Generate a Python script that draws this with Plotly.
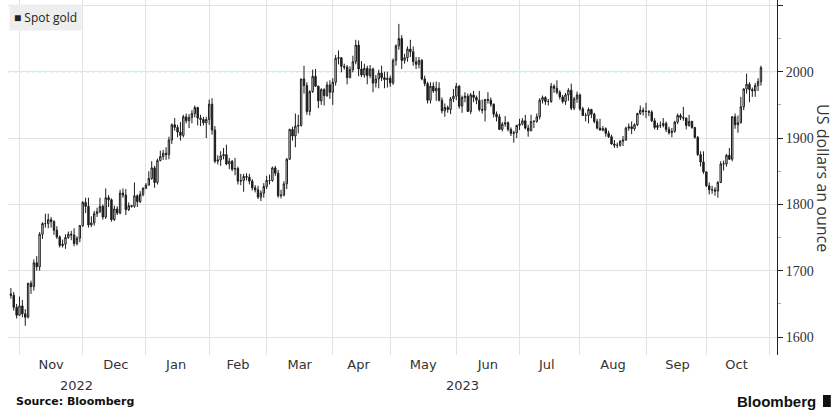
import pandas as pd
import plotly.graph_objects as go

# Trading days (Mon-Fri) from 27 Oct 2022 to 27 Oct 2023
dates = pd.bdate_range("2022-10-27", "2023-10-27")

# Spot gold daily OHLC, US dollars an ounce
opens = [
    1665, 1663, 1645,
    1633, 1647, 1635, 1630, 1681, 1676, 1712, 1706, 1755, 1771, 1771, 1777, 1774, 1761, 1751, 1738, 1740, 1750, 1755, 1754, 1741, 1749,
    1768, 1803, 1797, 1769, 1772, 1786, 1789, 1797, 1781, 1810, 1807, 1777, 1793, 1787, 1817, 1814, 1792, 1798, 1797, 1813, 1804, 1815,
    1824, 1829, 1839, 1855, 1833, 1866, 1872, 1877, 1875, 1897, 1920, 1916, 1909, 1904, 1932, 1926, 1931, 1937, 1946, 1930, 1928, 1923,
    1928, 1951, 1912, 1865, 1867, 1873, 1875, 1861, 1865, 1853, 1854, 1835, 1836, 1842, 1841, 1835, 1825, 1822, 1811, 1817,
    1827, 1836, 1836, 1855, 1847, 1813, 1814, 1831, 1868, 1913, 1903, 1918, 1919, 1989, 1979, 1940, 1970, 1993, 1978, 1956, 1973, 1964, 1980,
    1969, 1984, 2020, 2021, 2008, 2007, 1991, 2003, 2015, 2040, 2004, 1995, 2005, 1994, 2004, 1983, 1989, 1998, 1991, 1988,
    1990, 1983, 2017, 2039, 2050, 2017, 2021, 2034, 2030, 2015, 2011, 2017, 1989, 1982, 1957, 1978, 1971, 1975, 1957, 1941, 1946, 1943, 1959,
    1963, 1978, 1948, 1961, 1963, 1940, 1965, 1961, 1957, 1943, 1942, 1958, 1957, 1951, 1936, 1932, 1913, 1921, 1923, 1913, 1907, 1908,
    1919, 1921, 1926, 1915, 1911, 1925, 1925, 1932, 1957, 1961, 1955, 1955, 1978, 1975, 1969, 1962, 1955, 1965, 1972, 1945, 1959,
    1965, 1944, 1934, 1934, 1943, 1936, 1925, 1915, 1912, 1914, 1907, 1902, 1891, 1889, 1889, 1895, 1897, 1915, 1917, 1914, 1920, 1937, 1942,
    1940, 1940, 1939, 1926, 1916, 1919, 1919, 1922, 1913, 1908, 1910, 1924, 1934, 1931, 1930, 1919, 1925, 1916, 1901, 1875, 1864,
    1849, 1828, 1822, 1822, 1820, 1833, 1861, 1861, 1874, 1868, 1932, 1920, 1923, 1947, 1974, 1981, 1973, 1971, 1979, 1985,
]
highs = [
    1674, 1668, 1650,
    1661, 1656, 1642, 1682, 1685, 1717, 1722, 1758, 1773, 1786, 1786, 1781, 1776, 1767, 1753, 1747, 1755, 1759, 1760, 1764, 1752, 1769,
    1805, 1810, 1810, 1782, 1790, 1795, 1810, 1800, 1824, 1814, 1809, 1798, 1797, 1822, 1824, 1823, 1803, 1799, 1833, 1815, 1820, 1826,
    1832, 1850, 1865, 1858, 1869, 1881, 1882, 1886, 1902, 1922, 1930, 1920, 1924, 1935, 1937, 1936, 1942, 1949, 1947, 1935, 1932, 1932,
    1958, 1960, 1918, 1874, 1880, 1885, 1890, 1870, 1867, 1870, 1857, 1846, 1846, 1847, 1846, 1838, 1829, 1828, 1821, 1832,
    1843, 1845, 1857, 1858, 1852, 1822, 1835, 1870, 1914, 1917, 1937, 1935, 1989, 2009, 1984, 1972, 2003, 2004, 1979, 1975, 1975, 1985, 1987,
    1990, 2025, 2032, 2022, 2012, 2010, 2008, 2024, 2048, 2047, 2016, 2012, 2009, 2010, 2006, 1995, 2003, 2009, 2000, 2000,
    1994, 2020, 2041, 2072, 2055, 2027, 2038, 2048, 2038, 2022, 2022, 2019, 1994, 1985, 1984, 1984, 1985, 1984, 1961, 1952, 1949, 1962, 1974,
    1983, 1980, 1964, 1969, 1967, 1968, 1971, 1964, 1971, 1958, 1959, 1969, 1961, 1952, 1940, 1936, 1924, 1933, 1925, 1916, 1911, 1920,
    1929, 1930, 1935, 1920, 1935, 1927, 1937, 1960, 1964, 1963, 1959, 1983, 1981, 1987, 1972, 1965, 1968, 1975, 1982, 1962, 1970,
    1967, 1947, 1938, 1946, 1944, 1938, 1929, 1929, 1918, 1916, 1911, 1905, 1897, 1893, 1897, 1903, 1917, 1922, 1925, 1922, 1938, 1949, 1946,
    1953, 1942, 1942, 1930, 1923, 1925, 1930, 1925, 1917, 1915, 1926, 1937, 1937, 1947, 1931, 1935, 1926, 1916, 1903, 1880, 1880,
    1849, 1833, 1828, 1826, 1835, 1865, 1866, 1876, 1885, 1933, 1937, 1934, 1962, 1975, 1997, 1984, 1976, 1983, 1990, 2009,
]
lows = [
    1658, 1640, 1628,
    1632, 1630, 1617, 1628, 1665, 1670, 1700, 1700, 1748, 1765, 1764, 1765, 1754, 1748, 1735, 1735, 1733, 1748, 1746, 1737, 1738, 1743,
    1766, 1787, 1765, 1766, 1768, 1781, 1787, 1777, 1778, 1796, 1774, 1775, 1784, 1785, 1810, 1784, 1790, 1795, 1795, 1796, 1802, 1812,
    1823, 1829, 1837, 1825, 1830, 1865, 1867, 1867, 1868, 1891, 1911, 1901, 1896, 1901, 1922, 1915, 1922, 1931, 1919, 1918, 1919, 1900,
    1920, 1905, 1862, 1860, 1858, 1868, 1859, 1853, 1850, 1844, 1830, 1829, 1819, 1836, 1830, 1821, 1818, 1808, 1805, 1810,
    1823, 1830, 1834, 1843, 1810, 1809, 1812, 1823, 1867, 1896, 1886, 1907, 1917, 1967, 1935, 1934, 1968, 1977, 1945, 1950, 1949, 1962, 1959,
    1950, 1979, 2011, 1999, 2003, 1981, 1990, 1999, 2011, 1993, 1992, 1991, 1981, 1990, 1969, 1976, 1975, 1986, 1975, 1976,
    1977, 1980, 2009, 2033, 2004, 2012, 2015, 2022, 2009, 2004, 2005, 1987, 1978, 1952, 1952, 1968, 1956, 1955, 1937, 1932, 1938, 1936, 1954,
    1957, 1944, 1938, 1954, 1940, 1936, 1954, 1951, 1940, 1937, 1925, 1952, 1947, 1931, 1925, 1912, 1910, 1917, 1910, 1903, 1893, 1900,
    1912, 1919, 1913, 1902, 1910, 1915, 1923, 1928, 1952, 1950, 1949, 1953, 1968, 1966, 1958, 1952, 1950, 1956, 1942, 1942, 1953,
    1941, 1933, 1925, 1922, 1930, 1922, 1913, 1911, 1910, 1902, 1900, 1890, 1885, 1885, 1887, 1888, 1896, 1911, 1906, 1911, 1918, 1935, 1934,
    1930, 1933, 1924, 1913, 1912, 1915, 1916, 1909, 1905, 1901, 1908, 1921, 1927, 1926, 1913, 1917, 1914, 1899, 1873, 1857, 1846,
    1826, 1815, 1816, 1813, 1810, 1832, 1851, 1857, 1867, 1865, 1914, 1908, 1922, 1942, 1967, 1954, 1962, 1962, 1971, 1979,
]
closes = [
    1663, 1645, 1633,
    1647, 1635, 1630, 1681, 1676, 1712, 1706, 1755, 1771, 1771, 1777, 1774, 1761, 1751, 1738, 1740, 1750, 1755, 1754, 1741, 1749, 1768,
    1803, 1797, 1769, 1772, 1786, 1789, 1797, 1781, 1810, 1807, 1777, 1793, 1787, 1817, 1814, 1792, 1798, 1797, 1813, 1804, 1815, 1824,
    1829, 1839, 1855, 1833, 1866, 1872, 1877, 1875, 1897, 1920, 1916, 1909, 1904, 1932, 1926, 1931, 1937, 1946, 1930, 1928, 1923, 1928,
    1951, 1912, 1865, 1867, 1873, 1875, 1861, 1865, 1853, 1854, 1835, 1836, 1842, 1841, 1835, 1825, 1822, 1811, 1817, 1827,
    1836, 1836, 1855, 1847, 1813, 1814, 1831, 1868, 1913, 1903, 1918, 1919, 1989, 1979, 1940, 1970, 1993, 1978, 1956, 1973, 1964, 1980, 1969,
    1984, 2020, 2021, 2008, 2007, 1991, 2003, 2015, 2040, 2004, 1995, 2005, 1994, 2004, 1983, 1989, 1998, 1991, 1988, 1990,
    1983, 2017, 2039, 2050, 2017, 2021, 2034, 2030, 2015, 2011, 2017, 1989, 1982, 1957, 1978, 1971, 1975, 1957, 1941, 1946, 1943, 1959, 1963,
    1978, 1948, 1961, 1963, 1940, 1965, 1961, 1957, 1943, 1942, 1958, 1957, 1951, 1936, 1932, 1913, 1921, 1923, 1913, 1907, 1908, 1919,
    1921, 1926, 1915, 1911, 1925, 1925, 1932, 1957, 1961, 1955, 1955, 1978, 1975, 1969, 1962, 1955, 1965, 1972, 1945, 1959, 1965,
    1944, 1934, 1934, 1943, 1936, 1925, 1915, 1912, 1914, 1907, 1902, 1891, 1889, 1889, 1895, 1897, 1915, 1917, 1914, 1920, 1937, 1942, 1940,
    1940, 1939, 1926, 1916, 1919, 1919, 1922, 1913, 1908, 1910, 1924, 1934, 1931, 1930, 1919, 1925, 1916, 1901, 1875, 1864, 1849,
    1828, 1822, 1822, 1820, 1833, 1861, 1861, 1874, 1868, 1932, 1920, 1923, 1947, 1974, 1981, 1973, 1971, 1979, 1985, 2006,
]

y_ticks = [1600, 1700, 1800, 1900, 2000, 2100]
y_tick_labels = ["1600", "1700", "1800", "1900", "2000", ""]
reference_level = 2000
year_labels = ["2022", "2023"]
year_label_dates = ["2022-11-29", "2023-06-05"]

n = min(len(dates), len(opens), len(highs), len(lows), len(closes))

fig = go.Figure()
fig.add_trace(go.Candlestick(
    x=dates[:n], open=opens[:n], high=highs[:n], low=lows[:n], close=closes[:n],
    increasing=dict(line=dict(color="#1c1c1c", width=1), fillcolor="#ffffff"),
    decreasing=dict(line=dict(color="#1c1c1c", width=1), fillcolor="#1c1c1c"),
    whiskerwidth=0, showlegend=False, name="Spot gold",
))

fig.add_hline(y=reference_level, line=dict(color="#45b5d8", width=1, dash="dot"), layer="below")

fig.update_layout(
    width=835, height=412,
    margin=dict(l=8, r=58, t=0, b=57),
    paper_bgcolor="white", plot_bgcolor="white",
    showlegend=False,
    xaxis=dict(
        type="date",
        range=["2022-10-26", "2023-11-03 14:00"],
        rangebreaks=[dict(bounds=["sat", "mon"])],
        rangeslider=dict(visible=False),
        dtick="M1", tick0="2022-11-01", tickformat="%b",
        ticklabelmode="period",
        showgrid=True, gridcolor="#e2e2e2", gridwidth=1,
        ticks="", showline=False, zeroline=False,
        tickfont=dict(family="DejaVu Sans", size=13, color="#333333"),
    ),
    yaxis=dict(
        side="right",
        range=[1573, 2108],
        tickvals=y_ticks, ticktext=y_tick_labels,
        showgrid=True, gridcolor="#e2e2e2", gridwidth=1,
        ticks="outside", ticklen=5, tickcolor="#222222",
        showline=True, linecolor="#222222", linewidth=1,
        zeroline=False,
        tickfont=dict(family="Liberation Sans Narrow", size=14, color="#333333"),
        minor=dict(dtick=50, tick0=1550, ticks="outside", ticklen=3, tickcolor="#aaaaaa", showgrid=False),
    ),
)

for label, d in zip(year_labels, year_label_dates):
    fig.add_annotation(x=d, xref="x", y=-0.085, yref="paper", text=label, showarrow=False,
                       font=dict(family="DejaVu Sans", size=13, color="#333333"),
                       xanchor="center", yanchor="middle")

fig.add_annotation(x=1.0595, xref="paper", y=0.499, yref="paper", text="US dollars an ounce",
                   textangle=90, showarrow=False,
                   font=dict(family="Open Sans", size=16, color="#333333"),
                   xanchor="center", yanchor="middle")

fig.add_annotation(x=0.001, xref="paper", y=0.99, yref="paper", text="■ Spot gold",
                   showarrow=False, bgcolor="#eeeeee", borderpad=4,
                   font=dict(family="Open Sans", size=12, color="#222222"),
                   xanchor="left", yanchor="top")

fig.add_annotation(x=0.0078, xref="paper", y=-0.1296, yref="paper", text="<b>Source: Bloomberg</b>",
                   showarrow=False, font=dict(family="DejaVu Sans", size=11, color="#111111"),
                   xanchor="left", yanchor="middle")

fig.add_annotation(x=1.053, xref="paper", y=-0.1296, yref="paper", text="<b>Bloomberg</b>",
                   showarrow=False, font=dict(family="Liberation Sans", size=15, color="#111111"),
                   xanchor="right", yanchor="middle")

fig.add_shape(type="rect", xref="paper", yref="paper", x0=1.0598, x1=1.0700, y0=-0.1127, y1=-0.1465,
              fillcolor="#111111", line=dict(width=0))

fig.write_html("out.html")
